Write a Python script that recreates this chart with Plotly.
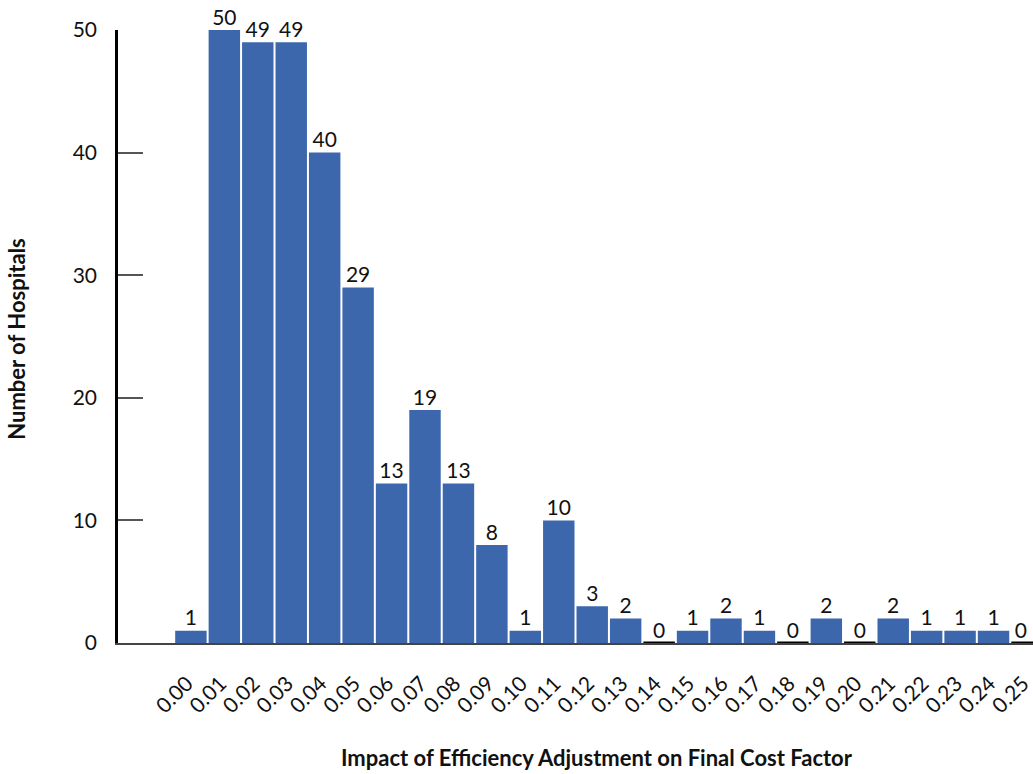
import plotly.graph_objects as go

# Histogram of hospitals by efficiency-adjustment impact
bin_labels = ["0.00", "0.01", "0.02", "0.03", "0.04", "0.05", "0.06", "0.07", "0.08",
              "0.09", "0.10", "0.11", "0.12", "0.13", "0.14", "0.15", "0.16", "0.17",
              "0.18", "0.19", "0.20", "0.21", "0.22", "0.23", "0.24", "0.25"]
hospital_counts = [1, 50, 49, 49, 40, 29, 13, 19, 13, 8, 1, 10, 3, 2, 0, 1, 2, 1,
                   0, 2, 0, 2, 1, 1, 1, 0]

y_ticks = [0, 10, 20, 30, 40, 50]

BAR_COLOR = "#3c67ad"
FONT = "Lato"
BAR_WIDTH = 0.94
LABEL_SHIFT = 0.12  # rotated tick labels end just left of the bar centre

positions = list(range(len(bin_labels)))

fig = go.Figure()

fig.add_trace(go.Bar(
    x=positions,
    y=hospital_counts,
    width=BAR_WIDTH,
    marker=dict(color=BAR_COLOR, line=dict(width=0)),
    hoverinfo="skip",
))

# Empty bins are shown as a dark segment on the baseline
seg_x, seg_y = [], []
for pos, count in zip(positions, hospital_counts):
    if count == 0:
        seg_x += [pos - BAR_WIDTH / 2, pos + BAR_WIDTH / 2, None]
        seg_y += [0, 0, None]
fig.add_trace(go.Scatter(
    x=seg_x, y=seg_y, mode="lines",
    line=dict(color="black", width=3),
    cliponaxis=False, hoverinfo="skip",
))

# Count labels above each bar (the last one leans left to stay on the page)
text_pos = ["top center"] * (len(positions) - 1) + ["top left"]
fig.add_trace(go.Scatter(
    x=positions, y=hospital_counts, mode="text",
    text=[str(c) for c in hospital_counts],
    textposition=text_pos,
    textfont=dict(family=FONT, size=21, color="#111"),
    cliponaxis=False, hoverinfo="skip",
))

fig.update_layout(
    width=1033, height=774,
    margin=dict(l=118, r=0, t=30, b=131),
    paper_bgcolor="white", plot_bgcolor="white",
    showlegend=False,
    font=dict(family=FONT, size=21, color="#111"),
    xaxis=dict(
        range=[-2.18, 25.18],
        tickmode="array", tickvals=[p - LABEL_SHIFT for p in positions],
        ticktext=bin_labels,
        tickangle=-45, ticks="", showgrid=False, zeroline=False,
        ticklabelstandoff=18, ticklabeloverflow="allow", automargin=False,
        showline=True, linecolor="#444", linewidth=2,
        tickfont=dict(family=FONT, size=21, color="#111"),
    ),
    yaxis=dict(
        range=[0, 50],
        tickmode="array", tickvals=y_ticks,
        ticks="inside", ticklen=25, tickcolor="#555", tickwidth=1.5,
        ticklabelstandoff=14, automargin=False,
        showgrid=False, zeroline=False,
        showline=True, linecolor="black", linewidth=2.5,
        tickfont=dict(family=FONT, size=21, color="#111"),
    ),
    annotations=[
        dict(text="<b>Impact of Efficiency Adjustment on Final Cost Factor</b>",
             xref="paper", yref="paper", x=0.5235, y=-0.187,
             xanchor="center", yanchor="middle", showarrow=False,
             font=dict(family=FONT, size=22, color="#111")),
        dict(text="<b>Number of Hospitals</b>",
             xref="paper", yref="paper", x=-0.111, y=0.497,
             xanchor="center", yanchor="middle", showarrow=False, textangle=-90,
             font=dict(family=FONT, size=22, color="#111")),
    ],
)

fig.write_html("out.html")
